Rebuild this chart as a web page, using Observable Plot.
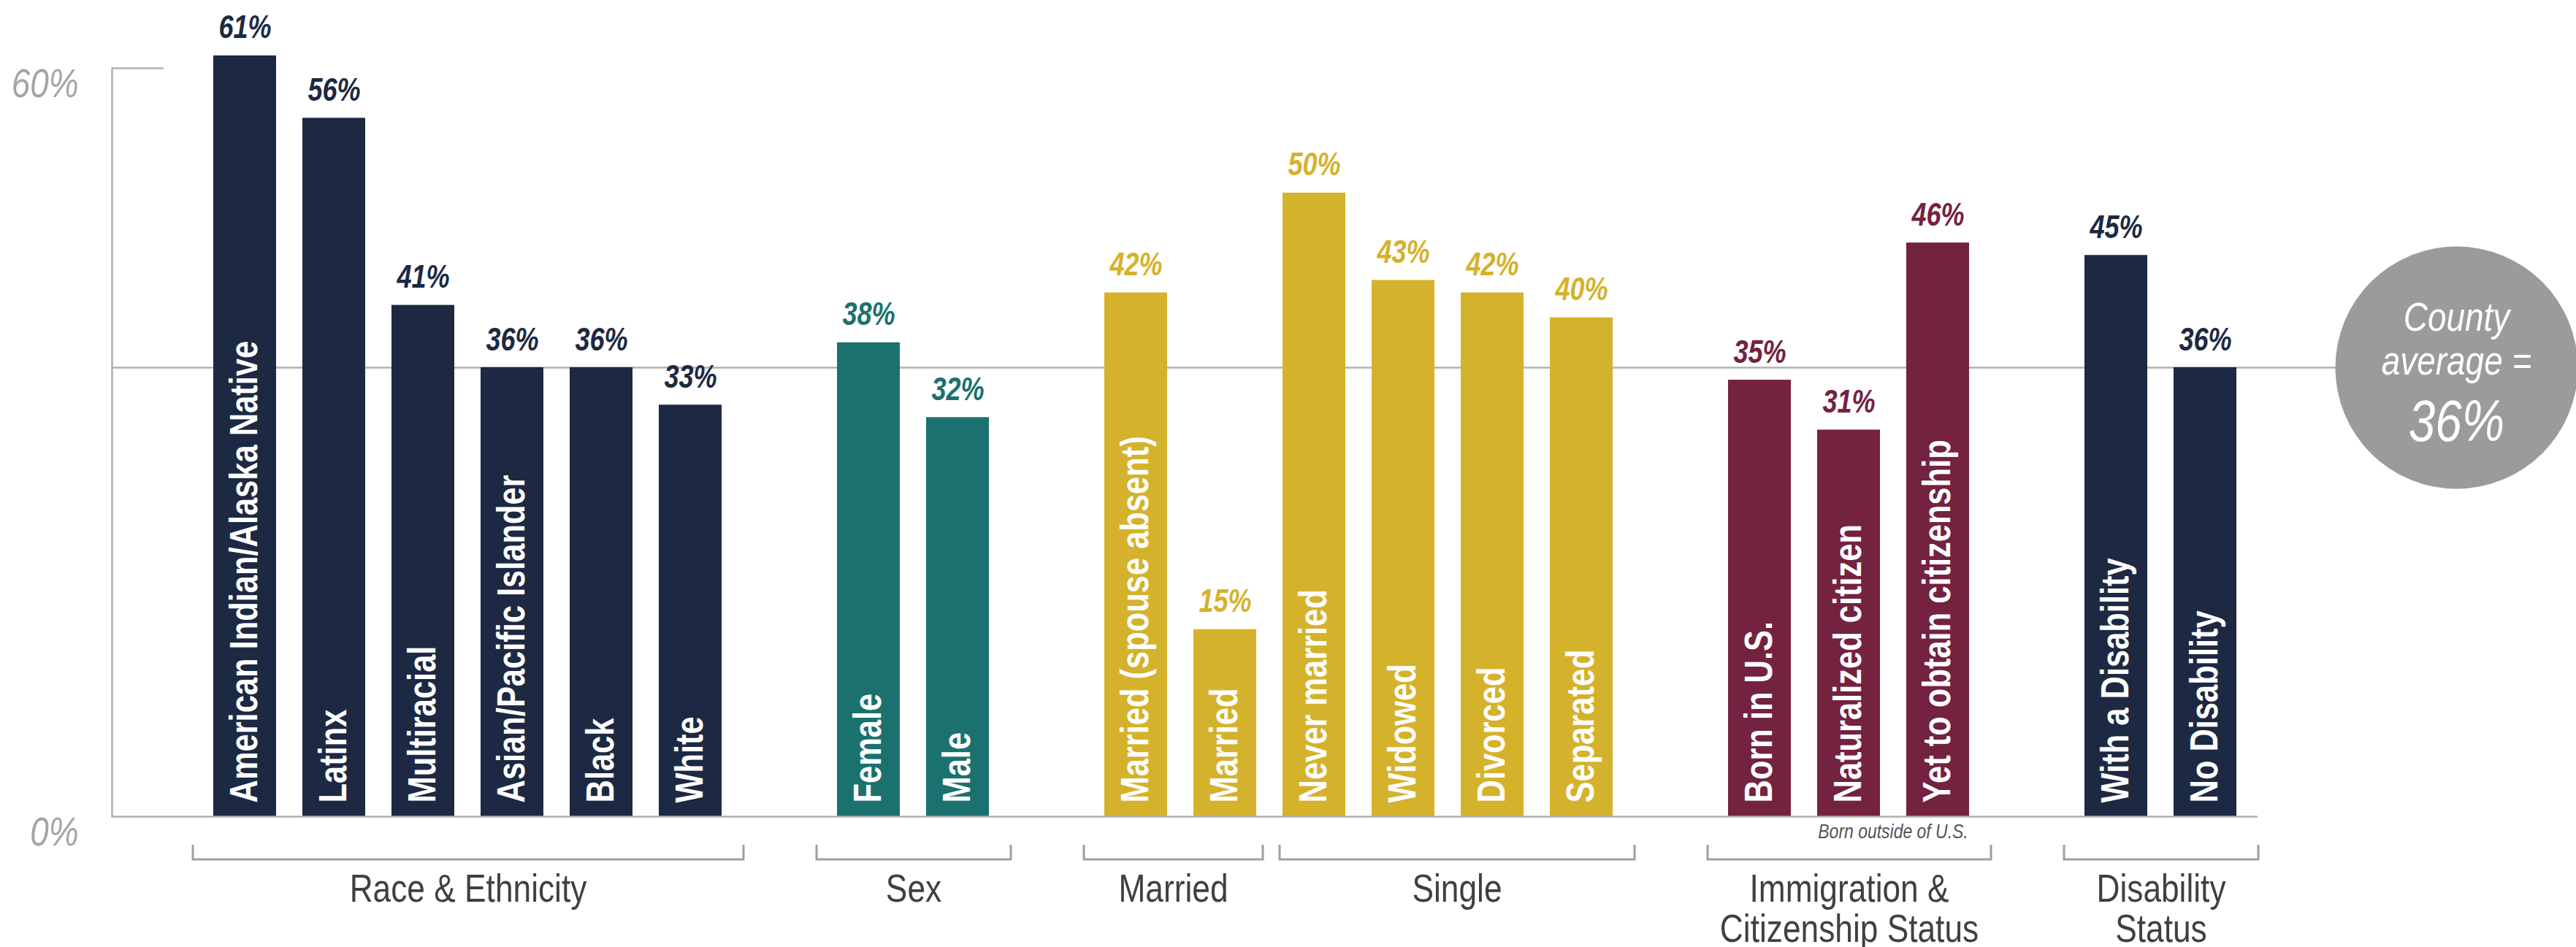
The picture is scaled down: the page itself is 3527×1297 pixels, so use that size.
<!DOCTYPE html>
<html>
<head>
<meta charset="utf-8">
<script src="https://cdn.jsdelivr.net/npm/d3@7"></script>
<script src="https://cdn.jsdelivr.net/npm/@observablehq/plot@0.6"></script>
<style>
  html, body { margin: 0; padding: 0; background: #ffffff; }
  #chart svg { display: block; }
</style>
</head>
<body>
<div id="chart"></div>
<script>
// ---- data ----
const categories = [
  "American Indian/Alaska Native", "Latinx", "Multiracial", "Asian/Pacific Islander", "Black", "White",
  "Female", "Male",
  "Married (spouse absent)", "Married",
  "Never married", "Widowed", "Divorced", "Separated",
  "Born in U.S.", "Naturalized citizen", "Yet to obtain citizenship",
  "With a Disability", "No Disability"
];
const values = [61, 56, 41, 36, 36, 33, 38, 32, 42, 15, 50, 43, 42, 40, 35, 31, 46, 45, 36];
const groupOf = [
  "Race & Ethnicity", "Race & Ethnicity", "Race & Ethnicity", "Race & Ethnicity", "Race & Ethnicity", "Race & Ethnicity",
  "Sex", "Sex",
  "Married", "Married",
  "Single", "Single", "Single", "Single",
  "Immigration & Citizenship Status", "Immigration & Citizenship Status", "Immigration & Citizenship Status",
  "Disability Status", "Disability Status"
];
const groups = ["Race & Ethnicity", "Sex", "Married", "Single", "Immigration & Citizenship Status", "Disability Status"];
const groupLabels = ["Race & Ethnicity", "Sex", "Married", "Single", "Immigration &\nCitizenship Status", "Disability\nStatus"];
const groupColors = ["#1d2942", "#1b716e", "#d5b22c", "#d5b22c", "#73223f", "#1d2942"];
const sections = [["Race & Ethnicity"], ["Sex"], ["Married", "Single"], ["Immigration & Citizenship Status"], ["Disability Status"]];
const yTicks = [0, 60];
const countyAverage = 36;
const averageLabel = "County\naverage =";
const noteText = "Born outside of U.S.";
const noteFrom = "Naturalized citizen";
const noteTo = "Yet to obtain citizenship";

// ---- table ----
const data = categories.map((c, i) => ({category: c, value: values[i], group: groupOf[i]}));
const domain = [];
sections.forEach((sec, s) => {
  if (s > 0) domain.push(`gap${s}`);
  data.filter(d => sec.includes(d.group)).forEach(d => domain.push(d.category));
});

// ---- pick a narrow font if one is installed, else squeeze Liberation Sans ----
function fontAvailable(name) {
  const c = document.createElement("canvas").getContext("2d");
  const s = "abcdefghijklmnopqrstuvwxyzABCDEFGHIJKLMNOPQRSTUVWXYZ0123456789";
  c.font = "72px monospace";
  const a = c.measureText(s).width;
  c.font = `72px '${name}', monospace`;
  const b = c.measureText(s).width;
  return Math.abs(a - b) > 0.5;
}
const narrowCandidates = ["Liberation Sans Narrow", "Arial Narrow", "Nimbus Sans Narrow"];
const narrowFont = narrowCandidates.find(fontAvailable);
const FONT = narrowFont ? `'${narrowFont}', sans-serif` : "'Liberation Sans', Arial, Helvetica, sans-serif";
const SQUEEZE = narrowFont ? 1 : 0.82;

const W = 3527, H = 1297;
const GRID = "#b0b0b0";

const chart = Plot.plot({
  width: W,
  height: H,
  marginLeft: 153,
  marginRight: 0,
  marginTop: 93,
  marginBottom: 179,
  style: {fontFamily: FONT, background: "#ffffff", overflow: "visible"},
  x: {domain, range: [264, 3091], paddingInner: 0.292, paddingOuter: 0.146, axis: null},
  y: {domain: [0, 60], axis: null},
  color: {domain: groups, range: groupColors},
  marks: [
    Plot.ruleY([countyAverage], {stroke: GRID, strokeWidth: 2.5, insetRight: W - 3200}),
    Plot.barY(data, {x: "category", y: "value", fill: "group"}),
    Plot.ruleY([0], {stroke: GRID, strokeWidth: 2.5, insetRight: W - 3091}),
    Plot.ruleY([60], {stroke: GRID, strokeWidth: 2.5, insetRight: W - 224}),
    Plot.frame({anchor: "left", stroke: GRID, strokeWidth: 2.5}),
    Plot.text(yTicks, {
      y: d => d, text: d => `${d}%`, frameAnchor: "left", dx: -46,
      textAnchor: "end", lineAnchor: "top", fontStyle: "italic", fontSize: 56, fill: "#a5a5a5"
    }),
    Plot.text(data, {
      x: "category", y: "value", text: d => `${d.value}%`, fill: "group",
      lineAnchor: "bottom", dy: -24, fontSize: 44, fontWeight: "bold", fontStyle: "italic"
    }),
    Plot.text(data, {
      x: "category", y: 0, text: "category", rotate: -90, textAnchor: "start",
      dy: -19, fill: "white", fontWeight: "bold", fontSize: 53
    }),
    Plot.dot([countyAverage], {y: d => d, frameAnchor: "right", dx: -164, r: 166, fill: "#9b9b9b", stroke: "none"}),
    Plot.text([averageLabel], {
      y: () => countyAverage, frameAnchor: "right", dx: -164, dy: 9, text: d => d,
      textAnchor: "middle", lineAnchor: "bottom", lineHeight: 1.07, fontSize: 56, fontStyle: "italic", fill: "white"
    }),
    Plot.text([countyAverage], {
      y: d => d, frameAnchor: "right", dx: -164, dy: 100, text: d => `${d}%`,
      textAnchor: "middle", lineAnchor: "bottom", fontSize: 80, fontStyle: "italic", fill: "white"
    })
  ]
});

// ---- group brackets and labels, positioned from Plot's own scales ----
const xs = chart.scale("x");
const ys = chart.scale("y");
const bw = xs.bandwidth;
const yBase = ys.apply(0);
const svg = d3.select(chart);
const gb = svg.append("g").attr("fill", "none").attr("stroke", "#9f9f9f").attr("stroke-width", 3);
const gt = svg.append("g").attr("fill", "#404040").attr("font-size", 54).attr("text-anchor", "middle");

groups.forEach((grp, gi) => {
  const cats = data.filter(d => d.group === grp).map(d => d.category);
  const i0 = domain.indexOf(cats[0]);
  const i1 = domain.indexOf(cats[cats.length - 1]);
  const leftAdj = i0 > 0 && !domain[i0 - 1].startsWith("gap");
  const rightAdj = i1 < domain.length - 1 && !domain[i1 + 1].startsWith("gap");
  const x0 = xs.apply(cats[0]) - (leftAdj ? 4 : 28);
  const x1 = xs.apply(cats[cats.length - 1]) + bw + (rightAdj ? 9 : 30);
  const yb = yBase + 59;
  gb.append("path").attr("d", `M${x0},${yb - 20}V${yb}H${x1}V${yb - 20}`);
  const lines = groupLabels[gi].split("\n");
  const t = gt.append("text").attr("transform", `translate(${(x0 + x1) / 2},${yBase + 117})`);
  lines.forEach((ln, k) => {
    t.append("tspan").attr("x", 0).attr("y", k * 55).text(ln);
  });
});

const nx = (xs.apply(noteFrom) + xs.apply(noteTo) + bw) / 2;
svg.append("text")
  .attr("transform", `translate(${nx},${yBase + 30})`)
  .attr("text-anchor", "middle").attr("font-size", 28).attr("font-style", "italic")
  .attr("fill", "#555555").text(noteText);

// condense every text horizontally when no narrow face is installed
if (SQUEEZE !== 1) {
  svg.selectAll("text").each(function () {
    let t = this.getAttribute("transform");
    if (!t) {
      const x = +this.getAttribute("x") || 0, y = +this.getAttribute("y") || 0;
      this.removeAttribute("x");
      this.removeAttribute("y");
      t = `translate(${x},${y})`;
    }
    this.setAttribute("transform", `${t} scale(${SQUEEZE},1)`);
  });
}

document.getElementById("chart").appendChild(chart);
</script>
</body>
</html>
